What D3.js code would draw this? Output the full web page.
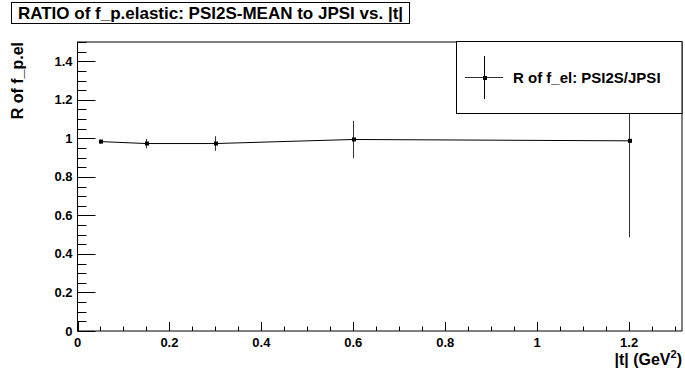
<!DOCTYPE html>
<html><head><meta charset="utf-8">
<script src="https://cdn.jsdelivr.net/npm/d3@7"></script>
<style>body{margin:0;background:#fff}svg{display:block}text{font-family:"Liberation Sans",Arial,sans-serif;font-weight:bold}</style>
</head><body>
<script>
const tValues = [0.05, 0.15, 0.3, 0.6, 1.2];
const ratioValues = [0.983, 0.973, 0.973, 0.994, 0.987];
const ratioErrors = [0.010, 0.024, 0.038, 0.097, 0.501];
const xTickLabels = ["0", "0.2", "0.4", "0.6", "0.8", "1", "1.2"];
const yTickLabels = ["0", "0.2", "0.4", "0.6", "0.8", "1", "1.2", "1.4"];
const titleText = "RATIO of f_p.elastic: PSI2S-MEAN to JPSI vs. |t|";
const legendText = "R of f_el: PSI2S/JPSI";

const W = 685, H = 370;
const L = 77.5, R = 682, T = 42, B = 331;
const svg = d3.select("body").append("svg").attr("width", W).attr("height", H);
const x = d3.scaleLinear().domain([0, 1.315]).range([L, R]);
const y = d3.scaleLinear().domain([0, 1.5]).range([B, T]);
const isMajor = d => Math.abs(Math.round(d / 0.2) * 0.2 - d) < 1e-6;

// frame
svg.append("rect").attr("x", L).attr("y", T).attr("width", R - L).attr("height", B - T)
  .attr("fill", "none").attr("stroke", "#000").attr("stroke-width", 1);

// y axis ticks (inward)
const yMinor = d3.range(0, 1.5001, 0.05);
svg.append("g").selectAll("line").data(yMinor).join("line")
  .attr("x1", L).attr("x2", d => L + (isMajor(d) ? 18 : 9))
  .attr("y1", d => Math.round(y(d)) + 0.5).attr("y2", d => Math.round(y(d)) + 0.5)
  .attr("stroke", "#000").attr("stroke-width", 1);
svg.append("g").selectAll("text").data(yTickLabels).join("text")
  .attr("x", L - 5).attr("y", d => y(+d) + 4.5).attr("text-anchor", "end")
  .attr("font-size", 13).text(d => d);

// x axis ticks (inward)
const xMinor = d3.range(0, 1.3151, 0.05);
svg.append("g").selectAll("line").data(xMinor).join("line")
  .attr("y1", B).attr("y2", d => B - (isMajor(d) ? 9 : 4.5))
  .attr("x1", d => Math.round(x(d)) + 0.5).attr("x2", d => Math.round(x(d)) + 0.5)
  .attr("stroke", "#000").attr("stroke-width", 1);
svg.append("g").selectAll("text").data(xTickLabels).join("text")
  .attr("x", d => x(+d)).attr("y", B + 16).attr("text-anchor", "middle")
  .attr("font-size", 13).text(d => d);

// axis titles
const xt = svg.append("text").attr("x", R).attr("y", 365).attr("text-anchor", "end").attr("font-size", 16);
xt.append("tspan").text("|t| (GeV");
xt.append("tspan").attr("font-size", 11).attr("dy", -7).text("2");
xt.append("tspan").attr("dy", 7).text(")");
svg.append("text").attr("transform", `translate(22.5,${T}) rotate(-90)`).attr("text-anchor", "end")
  .attr("font-size", 16).text("R of f_p.el");

// clip for data
svg.append("clipPath").attr("id", "clip").append("rect").attr("x", L).attr("y", T).attr("width", R - L).attr("height", B - T);
const g = svg.append("g").attr("clip-path", "url(#clip)");
const pts = tValues.map((t, i) => ({t, v: ratioValues[i], e: ratioErrors[i]}));
g.append("path").datum(pts).attr("fill", "none").attr("stroke", "#000").attr("stroke-width", 1)
  .attr("d", d3.line().x(d => x(d.t)).y(d => y(d.v)));
g.selectAll("line.err").data(pts).join("line").attr("class", "err")
  .attr("x1", d => Math.round(x(d.t)) + 0.5).attr("x2", d => Math.round(x(d.t)) + 0.5)
  .attr("y1", d => y(d.v - d.e)).attr("y2", d => y(d.v + d.e))
  .attr("stroke", "#333").attr("stroke-width", 1);
g.selectAll("rect.m").data(pts).join("rect").attr("class", "m")
  .attr("x", d => Math.round(x(d.t)) - 1).attr("y", d => y(d.v) - 2).attr("width", 4).attr("height", 4).attr("fill", "#000");

// legend
const lg = svg.append("g");
lg.append("rect").attr("x", 456.5).attr("y", 41.5).attr("width", 225.5).attr("height", 72)
  .attr("fill", "#fff").attr("stroke", "#000").attr("stroke-width", 1);
lg.append("line").attr("x1", 465).attr("x2", 503).attr("y1", 77.5).attr("y2", 77.5).attr("stroke", "#333");
lg.append("line").attr("x1", 484.5).attr("x2", 484.5).attr("y1", 56).attr("y2", 99).attr("stroke", "#000");
lg.append("rect").attr("x", 483).attr("y", 76).attr("width", 4).attr("height", 4).attr("fill", "#000");
lg.append("text").attr("x", 513).attr("y", 83).attr("font-size", 15).text(legendText);

// title box
const tb = svg.append("g");
tb.append("rect").attr("x", 11.5).attr("y", 2.5).attr("width", 398).attr("height", 21)
  .attr("fill", "#fff").attr("stroke", "#000").attr("stroke-width", 1);
tb.append("text").attr("x", 210.5).attr("y", 19).attr("text-anchor", "middle").attr("font-size", 17).text(titleText);
</script>
</body></html>
